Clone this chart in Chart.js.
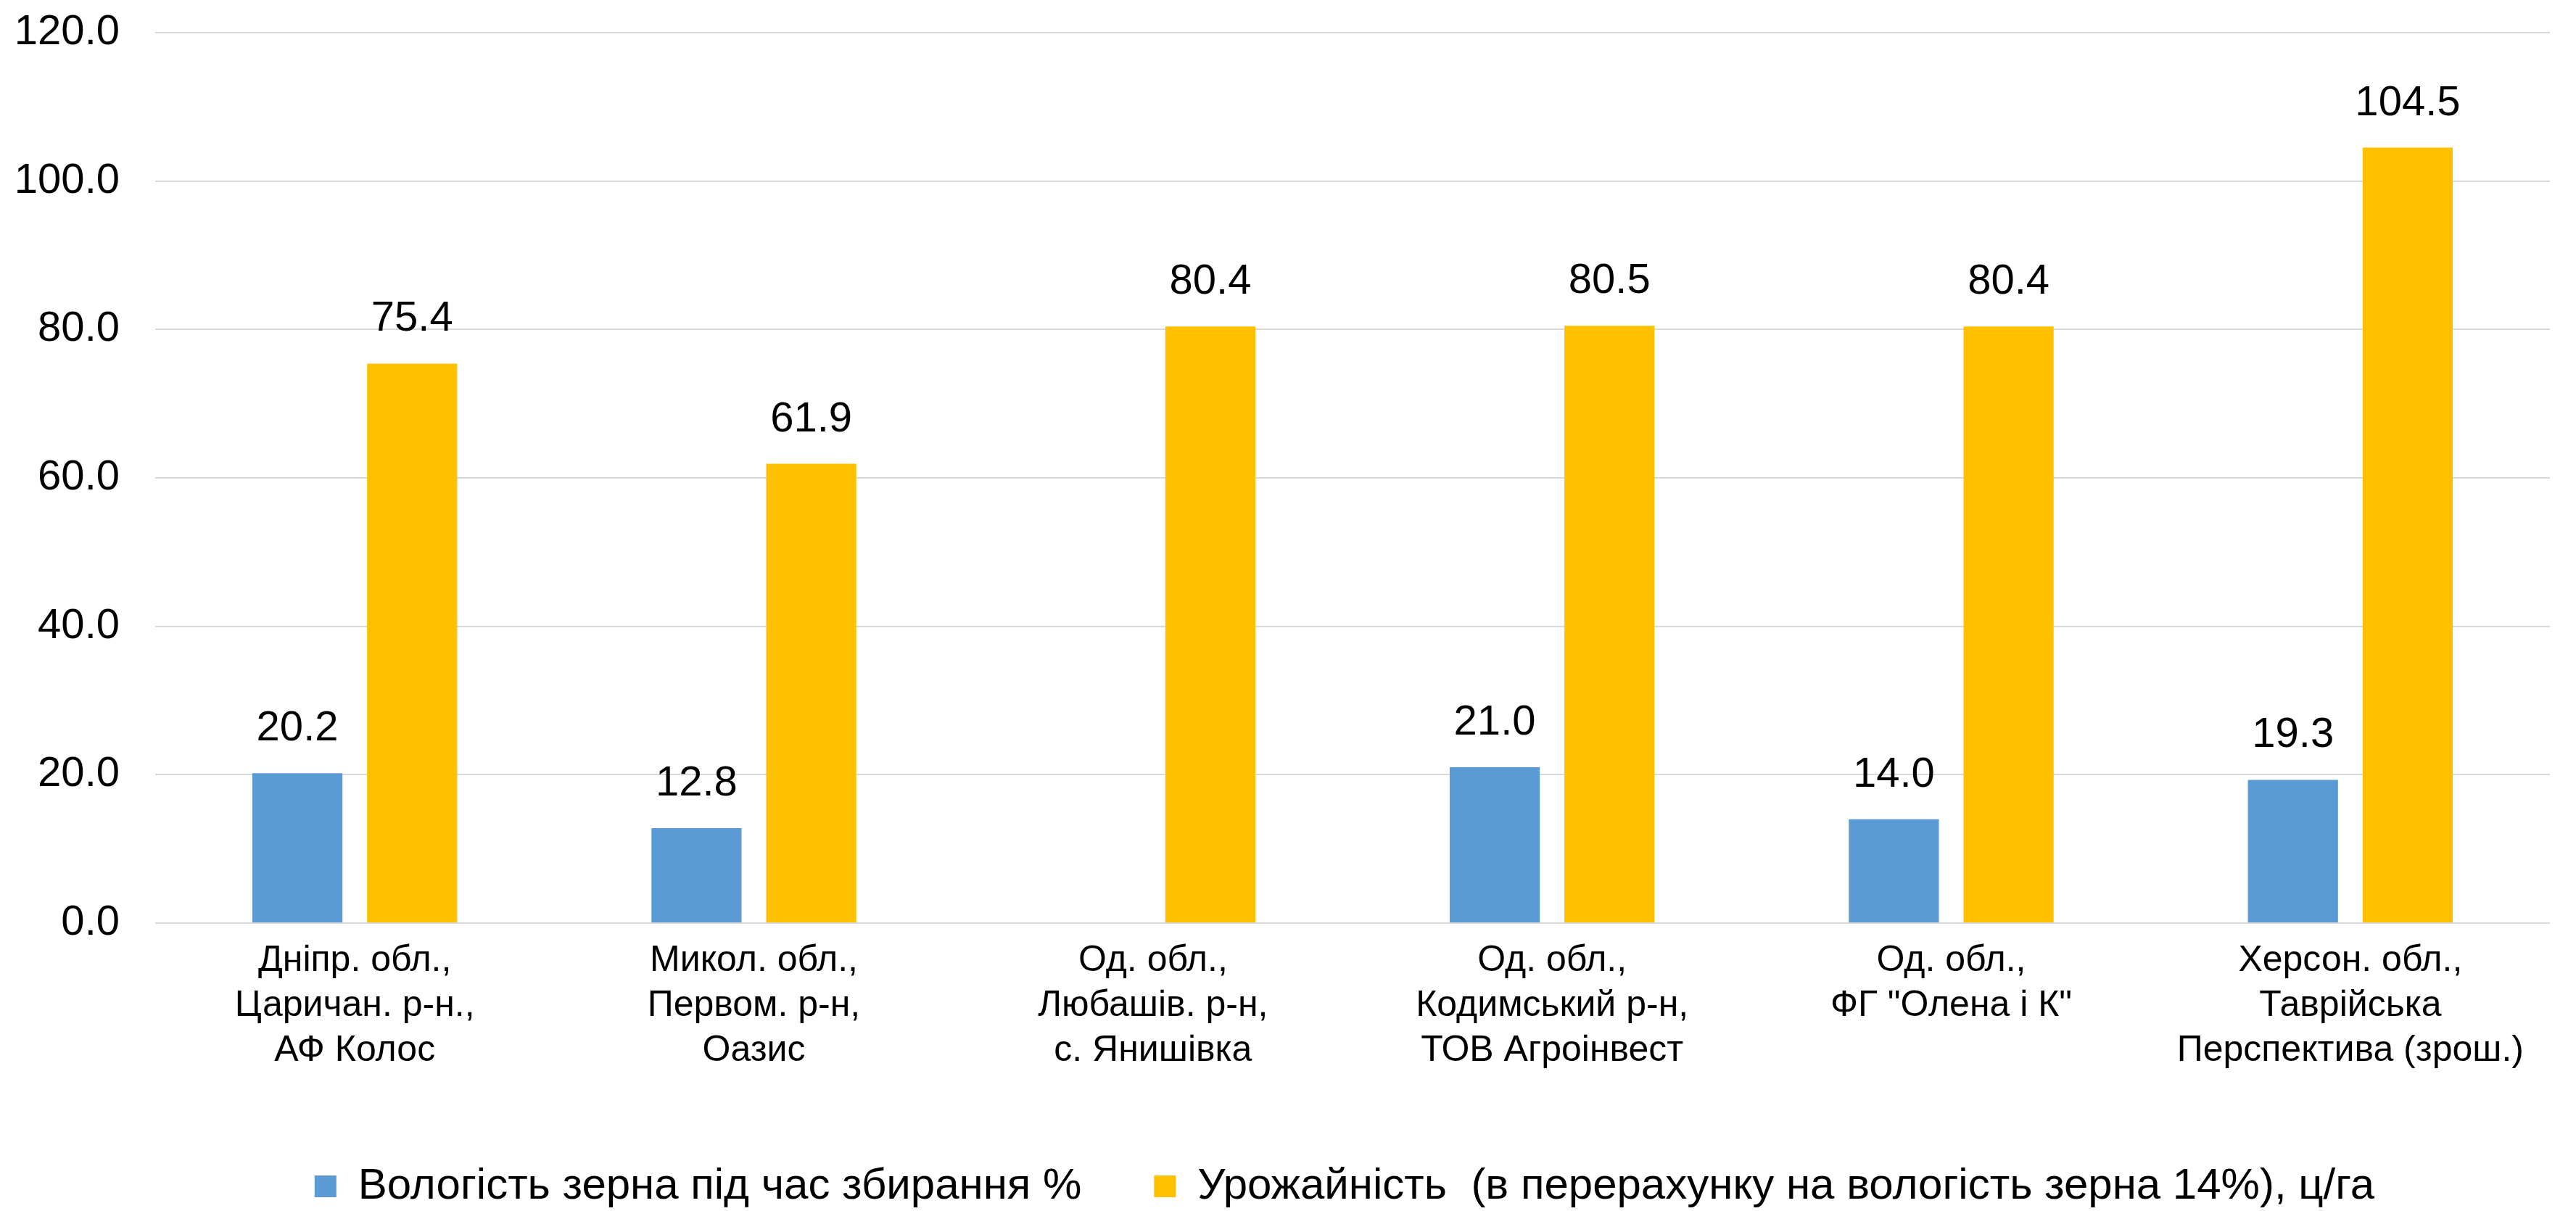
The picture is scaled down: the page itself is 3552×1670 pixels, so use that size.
<!DOCTYPE html>
<html>
<head>
<meta charset="utf-8">
<script src="https://cdn.jsdelivr.net/npm/chart.js@4/dist/chart.umd.min.js"></script>
<style>
html,body{margin:0;padding:0;background:#fff;}
#wrap{width:3552px;height:1670px;}
</style>
</head>
<body>
<div id="wrap"><canvas id="c" width="3552" height="1670"></canvas></div>
<script>
const categories = [
  ["Дніпр. обл.,", "Царичан. р-н.,", "АФ Колос"],
  ["Микол. обл.,", "Первом. р-н,", "Оазис"],
  ["Од. обл.,", "Любашів. р-н,", "с. Янишівка"],
  ["Од. обл.,", "Кодимський р-н,", "ТОВ Агроінвест"],
  ["Од. обл.,", "ФГ \"Олена і К\""],
  ["Херсон. обл.,", "Таврійська", "Перспектива (зрош.)"]
];
const seriesNames = [
  "Вологість зерна під час збирання %",
  "Урожайність  (в перерахунку на вологість зерна 14%), ц/га"
];
const moisture = [20.2, 12.8, null, 21.0, 14.0, 19.3];
const yieldValues = [75.4, 61.9, 80.4, 80.5, 80.4, 104.5];
const yTicks = [0, 20, 40, 60, 80, 100, 120];

const FONT = "'Liberation Sans', Arial, sans-serif";

const valueLabels = {
  id: 'valueLabels',
  afterDatasetsDraw(chart) {
    const ctx = chart.ctx;
    ctx.save();
    ctx.font = "58px " + FONT;
    ctx.fillStyle = "#000";
    ctx.textAlign = "center";
    ctx.textBaseline = "alphabetic";
    chart.data.datasets.forEach((ds, i) => {
      const meta = chart.getDatasetMeta(i);
      meta.data.forEach((bar, j) => {
        const v = ds.data[j];
        if (v === null || v === undefined) return;
        ctx.fillText(v.toFixed(1), bar.x, bar.y - 45);
      });
    });
    ctx.restore();
  }
};

const legendShift = {
  id: 'legendShift',
  afterLayout(chart) {
    if (chart.legend) {
      chart.legend.top += 6;
      chart.legend.bottom += 6;
      chart.legend.left += 96;
      chart.legend.right += 96;
    }
  }
};

new Chart(document.getElementById('c'), {
  type: 'bar',
  data: {
    labels: categories,
    datasets: [
      { label: seriesNames[0], data: moisture, backgroundColor: '#5B9BD5', categoryPercentage: 0.575, barPercentage: 0.785 },
      { label: seriesNames[1], data: yieldValues, backgroundColor: '#FFC000', categoryPercentage: 0.575, barPercentage: 0.785 }
    ]
  },
  options: {
    responsive: false,
    animation: false,
    layout: { padding: { left: 0, right: 36, top: 45, bottom: 0 } },
    plugins: {
      legend: {
        position: 'bottom',
        labels: {
          font: { family: FONT, size: 60 },
          color: '#000',
          boxWidth: 30,
          boxHeight: 30,
          padding: 100
        }
      },
      tooltip: { enabled: false }
    },
    scales: {
      x: {
        grid: { display: false, drawTicks: false },
        border: { display: false },
        afterFit(axis) { axis.paddingLeft = 0; axis.paddingRight = 0; axis.height = 227; },
        ticks: {
          font: { family: FONT, size: 50, lineHeight: 1.24 },
          color: '#000',
          padding: 21,
          maxRotation: 0,
          autoSkip: false
        }
      },
      y: {
        min: 0,
        max: 120,
        afterBuildTicks(axis) { axis.ticks = yTicks.map(v => ({ value: v })); },
        afterFit(axis) { axis.width = 214; axis.paddingTop = 0; axis.paddingBottom = 0; },
        grid: { color: '#D9D9D9', lineWidth: 2, drawTicks: false },
        border: { display: false },
        ticks: {
          font: { family: FONT, size: 58 },
          color: '#000',
          padding: 49,
          callback: v => Number(v).toFixed(1)
        }
      }
    }
  },
  plugins: [valueLabels, legendShift]
});
</script>
</body>
</html>
